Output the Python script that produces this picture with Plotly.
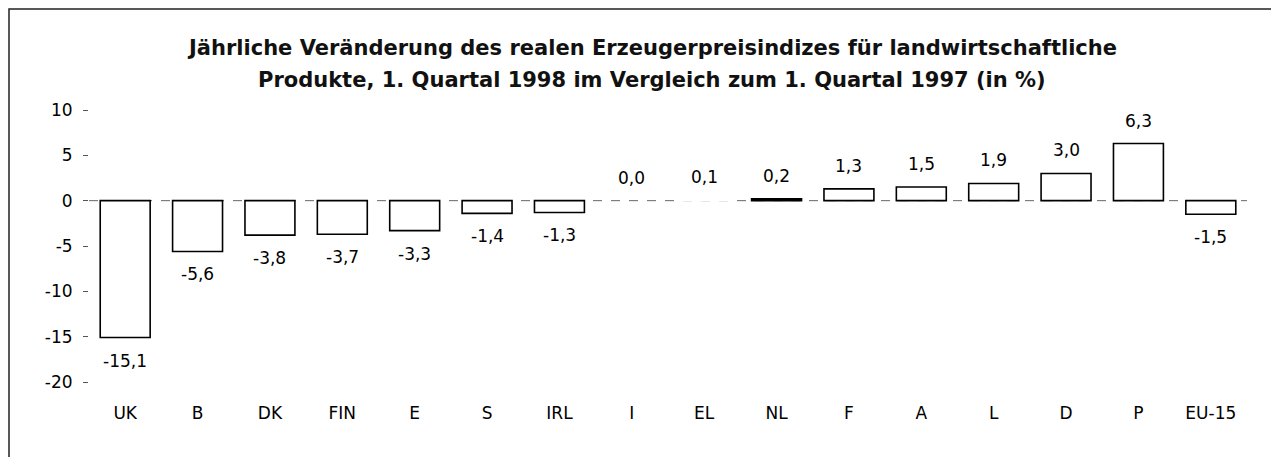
import plotly.graph_objects as go

categories = ["UK", "B", "DK", "FIN", "E", "S", "IRL", "I", "EL", "NL", "F", "A", "L", "D", "P", "EU-15"]
values = [-15.1, -5.6, -3.8, -3.7, -3.3, -1.4, -1.3, 0.0, 0.1, 0.2, 1.3, 1.5, 1.9, 3.0, 6.3, -1.5]
labels = ["-15,1", "-5,6", "-3,8", "-3,7", "-3,3", "-1,4", "-1,3", "0,0", "0,1", "0,2", "1,3", "1,5", "1,9", "3,0", "6,3", "-1,5"]
y_ticks = [-20, -15, -10, -5, 0, 5, 10]
title_lines = ["Jährliche Veränderung des realen Erzeugerpreisindizes für landwirtschaftliche",
               "Produkte, 1. Quartal 1998 im Vergleich zum 1. Quartal 1997 (in %)"]

FONT = "DejaVu Sans, Arial, sans-serif"
# page body has an 8px margin; figure coordinates are page coordinates minus 8
W, H = 1271, 449
L, R, T, B = 81, 32, 102, 75
pw = W - L - R
ph = H - T - B


def px_x(x):
    return (x - L) / pw


def px_y(y):
    return (H - B - y) / ph


# outline hidden where the bar is too flat to show in the original print
line_widths = [0 if abs(v) < 0.15 else 1.6 for v in values]

fig = go.Figure()
fig.add_trace(go.Bar(
    x=categories, y=values,
    marker=dict(color="white", line=dict(color="black", width=line_widths)),
    hoverinfo="x+y",
))

for c, v, lab in zip(categories, values, labels):
    up = v >= 0
    fig.add_annotation(x=c, y=v, text=lab, showarrow=False,
                       xanchor="center", yanchor="middle",
                       yshift=23 if up else -23,
                       font=dict(family=FONT, size=17, color="black"))

fig.add_hline(y=0, line=dict(color="#666666", width=1, dash="dash"), layer="below")

fig.add_shape(type="rect", xref="paper", yref="paper",
              x0=px_x(1), x1=px_x(1300),
              y0=px_y(480), y1=px_y(1),
              line=dict(color="#222222", width=1.5), fillcolor="rgba(0,0,0,0)")

for line_text, ypix in zip(title_lines, [40, 72]):
    fig.add_annotation(xref="paper", yref="paper", x=px_x(644), y=px_y(ypix),
                       text="<b>" + line_text + "</b>", showarrow=False,
                       xanchor="center", yanchor="middle",
                       font=dict(family=FONT, size=21, color="#111111"))

fig.update_layout(
    width=W, height=H,
    margin=dict(l=L, r=R, t=T, b=B),
    paper_bgcolor="white", plot_bgcolor="white",
    showlegend=False,
    bargap=0.31,
    font=dict(family=FONT, size=17, color="black"),
    xaxis=dict(showline=False, showgrid=False, zeroline=False,
               ticks="outside", ticklen=16, tickcolor="rgba(0,0,0,0)",
               tickfont=dict(family=FONT, size=17)),
    yaxis=dict(range=[-20, 10], tickvals=y_ticks, ticktext=[str(t) for t in y_ticks],
               showline=False, showgrid=False, zeroline=False,
               ticks="outside", ticklen=5, tickcolor="#555555", tickwidth=1,
               ticklabelstandoff=7,
               tickfont=dict(family=FONT, size=17)),
)

fig.write_html("out.html")
